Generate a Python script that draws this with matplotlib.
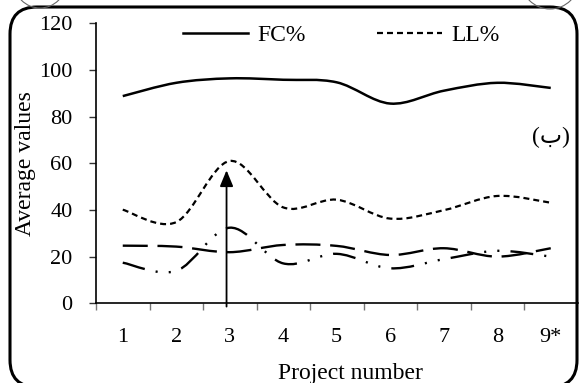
import numpy as np
import matplotlib
matplotlib.use("Agg")
import matplotlib.pyplot as plt
from matplotlib.path import Path
from matplotlib.patches import PathPatch, FancyBboxPatch, Arc
from matplotlib.lines import Line2D
from matplotlib.transforms import IdentityTransform

plt.rcParams['font.family'] = ['Liberation Serif', 'DejaVu Sans']
plt.rcParams['lines.scale_dashes'] = False

# data
projects = ['1', '2', '3', '4', '5', '6', '7', '8', '9*']
fc = [88.8, 94.5, 96.4, 95.8, 94.7, 85.6, 91.1, 94.5, 92.3]
ll = [40.1, 34.8, 61.0, 41.1, 44.4, 36.3, 39.9, 46.0, 43.1]
long_dash = [24.7, 24.3, 21.9, 25.0, 24.6, 20.7, 23.6, 20.0, 23.6]
dash_dot = [17.4, 13.9, 32.4, 17.1, 21.2, 15.0, 18.9, 22.5, 20.0]
arrow_x = 2.94
arrow_top = 57.0


def smooth_path(xs, ys):
    # excel-like smoothed line (catmull-rom as bezier)
    pts = np.column_stack([xs, ys]).astype(float)
    n = len(pts)
    verts = [pts[0]]
    codes = [Path.MOVETO]
    for i in range(n - 1):
        p0 = pts[i - 1] if i > 0 else pts[i]
        p1 = pts[i]
        p2 = pts[i + 1]
        p3 = pts[i + 2] if i + 2 < n else pts[i + 1]
        verts += [p1 + (p2 - p0) / 6, p2 - (p3 - p1) / 6, p2]
        codes += [Path.CURVE4] * 3
    return Path(verts, codes)


fig = plt.figure(figsize=(5.81, 3.83), dpi=100)
ax = fig.add_axes([96 / 581, 1 - 303.3 / 383, 481.5 / 581, 280 / 383])

x = np.arange(1, len(projects) + 1)
styles = [
    (fc, '-', 1.8),
    (ll, (0, (4.3, 2.9)), 1.6),
    (long_dash, (0, (18, 7)), 1.7),
    (dash_dot, (0, (16.5, 8, 1.5, 8, 1.5, 8)), 1.7),
]
for vals, ls, lw in styles:
    patch = PathPatch(smooth_path(x, vals), fill=False, edgecolor='black',
                      lw=lw, linestyle=ls, capstyle='butt', joinstyle='round')
    ax.add_patch(patch)

ax.annotate('', xy=(arrow_x, arrow_top), xytext=(arrow_x, -1.4),
            arrowprops=dict(arrowstyle='-|>,head_length=0.65,head_width=0.27',
                            mutation_scale=15, lw=1.3, color='black',
                            shrinkA=0, shrinkB=0),
            annotation_clip=False)

ax.set_xlim(0.5, 9.5)
ax.set_ylim(0, 120)
ax.set_yticks(range(0, 121, 20))
ax.set_xticks(x)
ax.set_xticklabels(projects)
ax.set_xticks(np.arange(0.5, 9.0, 1.0), minor=True)
ax.tick_params(axis='x', which='major', length=0, pad=18, labelsize=16)
ax.tick_params(axis='x', which='minor', length=5, width=1, color='#777777',
               direction='out')
ax.tick_params(axis='y', length=5, width=1, color='#333333', pad=12,
               labelsize=16)
for s in ['top', 'right']:
    ax.spines[s].set_visible(False)
for s in ['left', 'bottom']:
    ax.spines[s].set_linewidth(1.2)

ax.set_xlabel('Project number', fontsize=17)
ax.xaxis.set_label_coords(0.528, -0.215)
ax.set_ylabel('Average values', fontsize=17)
ax.yaxis.set_label_coords(-0.125, 0.5)

handles = [Line2D([], [], color='black', lw=1.8, ls='-'),
           Line2D([], [], color='black', lw=1.6, ls=(0, (4.3, 2.9)))]
ax.legend(handles, ['FC%', 'LL%'], loc='upper left',
          bbox_to_anchor=(0.181, 0.995), ncol=2, frameon=False,
          fontsize=17, handlelength=2.75, handletextpad=0.38,
          columnspacing=3.05, borderpad=0, borderaxespad=0)

fig.text(532 / 581, 1 - 137 / 383, '(ب)', fontsize=17, va='center',
         ha='left', family=['Liberation Serif', 'DejaVu Sans'])

# rounded frame round the chart, in pixels
frame = FancyBboxPatch((10, -4), 567, 380,
                       boxstyle='round,pad=0,rounding_size=27',
                       transform=IdentityTransform(), fill=False,
                       edgecolor='black', lw=2.2, clip_on=False)
fig.patches.append(frame)
for cx, cy, r in [(40, 401, 26), (550, 403, 29)]:
    fig.patches.append(Arc((cx, cy), 2 * r, 2 * r,
                           transform=IdentityTransform(),
                           color='#666666', lw=0.8, clip_on=False))

fig.savefig('out.png', dpi=100)
